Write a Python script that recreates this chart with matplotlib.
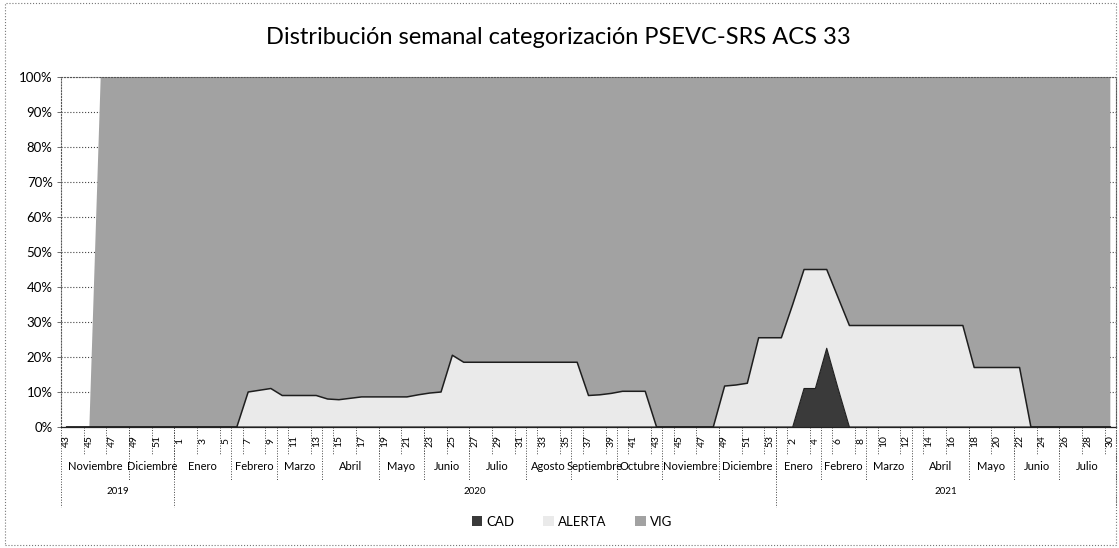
import numpy as np
import matplotlib
matplotlib.use('Agg')
import matplotlib.pyplot as plt
from matplotlib.patches import Rectangle

plt.rcParams['font.family'] = ['Lato', 'DejaVu Sans']

# semanas epidemiologicas por anio
anios = ['2019', '2020', '2021']
semanas_2019 = list(range(43, 53))
semanas_2020 = list(range(1, 54))
semanas_2021 = list(range(1, 31))
sin_datos_2019 = [43, 44, 45]  # semanas sin registros (0 en el grafico 100%)

# porcentaje semanal por categoria
cad_2019 = [0] * 10
cad_2020 = [0] * 53
cad_2021 = [0, 0, 11, 11, 22.5, 11] + [0] * 24

alerta_2019 = [0] * 10
alerta_2020 = ([0] * 6
               + [10, 10.5, 11, 9, 9, 9, 9, 8, 7.8, 8.2, 8.6, 8.6, 8.6, 8.6, 8.6, 9.2, 9.7, 10, 20.5]
               + [18.5] * 11
               + [9, 9.2, 9.6, 10.2, 10.2, 10.2]
               + [0] * 6
               + [11.7, 12, 12.5, 25.5, 25.5])
alerta_2021 = ([25.5, 35, 34, 34, 22.5, 26]
               + [29] * 11
               + [17] * 5
               + [0] * 8)

# meses (nombre, numero de semanas)
meses = [("Noviembre", 6), ("Diciembre", 4),
         ("Enero", 5), ("Febrero", 4), ("Marzo", 4), ("Abril", 5), ("Mayo", 4), ("Junio", 4),
         ("Julio", 5), ("Agosto", 4), ("Septiembre", 4), ("Octubre", 4), ("Noviembre", 5),
         ("Diciembre", 5),
         ("Enero", 4), ("Febrero", 4), ("Marzo", 4), ("Abril", 5), ("Mayo", 4), ("Junio", 4),
         ("Julio", 5)]
semanas_por_anio = [len(semanas_2019), len(semanas_2020), len(semanas_2021)]

semanas = semanas_2019 + semanas_2020 + semanas_2021
cad = np.array(cad_2019 + cad_2020 + cad_2021, dtype=float)
alerta = np.array(alerta_2019 + alerta_2020 + alerta_2021, dtype=float)
sin_datos = np.array([i < len(semanas_2019) and s in sin_datos_2019 for i, s in enumerate(semanas)])
vig = np.where(sin_datos, 0, 100 - cad - alerta)
x = np.arange(len(semanas))

W, H = 1119, 548
fig = plt.figure(figsize=(W / 100, H / 100), dpi=100)
fig.patch.set_facecolor('white')
ax_l, ax_r, ax_t, ax_b = 61, 1116, 77, 427
ax = fig.add_axes([ax_l / W, 1 - ax_b / H, (ax_r - ax_l) / W, (ax_b - ax_t) / H])

ax.stackplot(x, cad, alerta, vig, colors=['#3a3a3a', '#eaeaea', '#a2a2a2'],
             labels=['CAD', 'ALERTA', 'VIG'], lw=0, zorder=2)
ax.plot(x, cad + alerta, color='#1e1e1e', lw=1.1, zorder=3)
ax.plot(x, cad, color='#1e1e1e', lw=0.8, zorder=3)

ax.set_xlim(-0.5, len(x) - 0.5)
ax.set_ylim(0, 100)
ax.set_yticks(np.arange(0, 101, 10))
ax.set_yticklabels([f'{v}%' for v in range(0, 101, 10)], fontsize=9.5)
ax.tick_params(axis='y', length=3, width=0.6, color='#555', pad=3)
ax.tick_params(axis='x', length=0, labelbottom=False)
ax.set_axisbelow(True)
ax.yaxis.grid(True, ls=':', color='#444', lw=0.8, zorder=0)
for s in ['top', 'left', 'right']:
    ax.spines[s].set_linestyle(':')
    ax.spines[s].set_color('#555')
    ax.spines[s].set_linewidth(0.8)
ax.spines['bottom'].set_color('#222')
ax.spines['bottom'].set_linewidth(0.9)

# ejes de categorias en tres niveles
tr = ax.get_xaxis_transform()
hpx = ax_b - ax_t


def ya(ypix):
    return -(ypix - ax_b) / hpx


for i, s in enumerate(semanas):
    if i % 2 == 0:
        ax.text(i, ya(441), str(s), rotation=90, ha='center', va='center',
                fontsize=7.5, transform=tr, clip_on=False)
for b in np.arange(1.5, len(x) - 1, 2):
    ax.plot([b, b], [0, ya(455)], transform=tr, clip_on=False, ls=':', color='#444', lw=0.7)

pos = -0.5
for nombre, n in meses:
    ax.text(pos + n / 2, ya(466), nombre, ha='center', va='center', fontsize=8,
            transform=tr, clip_on=False)
    pos += n
    ax.plot([pos, pos], [0, ya(480)], transform=tr, clip_on=False, ls=':', color='#444', lw=0.7)

pos = -0.5
ax.plot([pos, pos], [0, ya(507)], transform=tr, clip_on=False, ls=':', color='#444', lw=0.7)
for anio, n in zip(anios, semanas_por_anio):
    ax.text(pos + n / 2, ya(492), anio, ha='center', va='center', fontsize=7,
            transform=tr, clip_on=False)
    pos += n
    ax.plot([pos, pos], [0, ya(507)], transform=tr, clip_on=False, ls=':', color='#444', lw=0.7)

fig.text(558 / W, 1 - 38 / H, 'Distribución semanal categorización PSEVC-SRS ACS 33',
         ha='center', va='center', fontsize=17)

fig.legend(loc='center', bbox_to_anchor=(572 / W, 1 - 522 / H), ncol=3, frameon=False,
           fontsize=9.5, handlelength=0.8, handleheight=0.8, columnspacing=2.2, handletextpad=0.3)

fig.patches.append(Rectangle((5 / W, 3 / H), 1111 / W, 542 / H, transform=fig.transFigure,
                             fill=False, ls=':', lw=0.8, ec='#777'))

fig.savefig('out.png', dpi=100)
